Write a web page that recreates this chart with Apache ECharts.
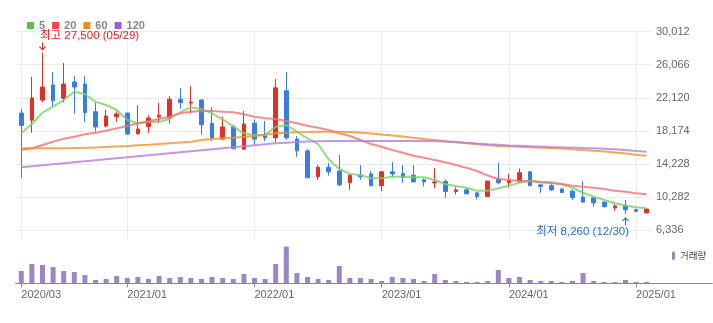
<!DOCTYPE html>
<html><head><meta charset="utf-8">
<script src="https://cdn.jsdelivr.net/npm/echarts@6/dist/echarts.min.js"></script>
<style>html,body{margin:0;padding:0;background:#fff}#c{width:713px;height:323px}</style>
</head><body><div id="c"></div>
<script>
const categories = ['2020/03','2020/04','2020/05','2020/06','2020/07','2020/08','2020/09','2020/10','2020/11','2020/12',
'2021/01','2021/02','2021/03','2021/04','2021/05','2021/06','2021/07','2021/08','2021/09','2021/10','2021/11','2021/12',
'2022/01','2022/02','2022/03','2022/04','2022/05','2022/06','2022/07','2022/08','2022/09','2022/10','2022/11','2022/12',
'2023/01','2023/02','2023/03','2023/04','2023/05','2023/06','2023/07','2023/08','2023/09','2023/10','2023/11','2023/12',
'2024/01','2024/02','2024/03','2024/04','2024/05','2024/06','2024/07','2024/08','2024/09','2024/10','2024/11','2024/12',
'2025/01','2025/02'];
const openV  = [20300,19450,21850,23650,22050,24000,23750,20450,18750,19850,20300,17850,18700,19850,19700,21950,21500,21850,19100,17200,18650,16000,19100,17600,17350,22950,17200,15800,12700,13850,13400,12000,12900,13050,11650,13300,13100,12900,12350,12000,12150,10950,11150,10800,10350,12450,12000,12200,13300,11750,11650,11250,11000,10300,10200,9700,9030,9310,8790,8430];
const closeV = [18800,22100,23400,21750,23750,23400,20350,18650,19950,20200,17800,18400,19700,20050,21950,21550,21600,18900,17350,18650,16050,19000,17200,17350,23300,17350,15800,12600,13850,13300,11750,12900,12700,11650,13300,13050,12650,12100,12100,12100,10950,11150,10700,10350,12200,12000,12350,13200,11650,11550,11150,10850,10250,9700,9600,9150,9230,8790,8600,8870];
const lowV   = [12600,17950,21600,21050,21550,20200,19250,18100,18600,19250,17700,17700,17950,19250,19050,20800,20250,17700,16950,17100,16000,15900,16500,16950,16850,17100,15100,12550,12350,12850,11550,11150,12350,11600,11000,12700,11950,12050,11550,11350,10200,10600,10600,10000,10350,11800,11400,11950,11600,10800,11050,10750,9950,9600,9150,9050,8670,8260,8480,8290];
const highV  = [20800,24600,27500,25200,26250,24700,24700,21550,20650,20500,20350,21250,20050,21500,22300,23300,23500,21950,21000,19850,18900,20550,19550,19350,24350,25200,17550,16000,14100,14350,15300,12950,14100,13400,13400,14450,14100,14100,12500,13750,12400,11450,11400,10800,12200,14350,13050,13700,13400,11800,12100,11400,11200,12200,10250,9750,9430,9950,8900,8880];
const volume = [1230,1930,1830,1630,1230,1130,830,330,430,730,530,630,430,730,530,630,530,430,630,530,430,930,530,430,1930,3670,1030,630,430,330,1730,530,530,430,230,630,530,430,230,930,330,230,130,130,230,1330,530,630,330,230,230,130,230,1030,230,130,130,330,130,130];
const ma5   = [17890,19000,20340,21060,21850,22840,22570,21650,21260,20660,19470,19080,19240,19240,19630,20370,20990,20750,20270,19560,18680,17890,17690,17690,18680,18880,18080,17290,16610,14790,13640,13040,12920,12530,12530,12720,12720,12650,12650,12330,11820,11610,11410,11050,11050,11340,11650,12010,12210,12120,12050,11820,11410,10810,10340,9950,9550,9270,9080,8960];
const ma20  = [15900,16100,16500,16890,17250,17480,17770,17960,18200,18480,18760,19080,19320,19590,19870,20270,20460,20550,20550,20460,20390,20150,19870,19680,19590,19350,19080,18790,18560,18280,17890,17570,17090,16610,16290,15900,15580,15220,14980,14710,14440,14110,13790,13400,12860,12450,12330,12210,12210,12050,11930,11850,11650,11530,11410,11260,11050,10930,10740,10620];
const ma60  = [16100,16100,16100,16100,16110,16140,16160,16200,16260,16320,16380,16460,16530,16610,16700,16790,16880,17090,17210,17290,17370,17470,17570,17720,17890,17950,18010,18040,18080,18080,18080,18040,17980,17870,17750,17630,17510,17350,17210,17090,16950,16820,16700,16580,16460,16380,16340,16290,16230,16170,16130,16080,16000,15900,15820,15720,15600,15480,15340,15220];
const ma120 = [13840,13960,14080,14200,14320,14440,14550,14670,14790,14910,15030,15150,15270,15390,15520,15640,15760,15880,16000,16110,16220,16340,16460,16580,16690,16770,16840,16900,16940,16960,16970,16970,16970,16970,16970,16970,16970,16970,16970,16940,16900,16840,16770,16670,16590,16520,16450,16400,16350,16310,16260,16220,16190,16140,16100,16040,15980,15900,15790,15690];
const yTicks = [6336,10282,14228,18174,22120,26066,30012];
const yMainMin = 5181;
const volumeMax = 4330;
const xLabelDates = ['2020/03','2021/01','2022/01','2023/01','2024/01','2025/01'];
const maNames = ['5','20','60','120'];
const highMark = {date:'2020/05', value:27500, text:'최고 27,500 (05/29)'};
const lowMark = {date:'2024/12', value:8260, text:'최저 8,260 (12/30)'};

const FONT = "'Liberation Sans', 'Noto Sans CJK KR', sans-serif";
const legendColors = ['#5bbf48','#ef4646','#f58a1e','#9e5ed0'];
const lineColors = ['#7ccf6a','#f27272','#f5902a','#b17ed9'];
const maData = [ma5, ma20, ma60, ma120];
const candleData = categories.map((c,i)=>[openV[i], closeV[i], lowV[i], highV[i]]);
const showLabel = (idx, val) => xLabelDates.indexOf(val) >= 0;
const fmt = v => Math.round(v).toString().replace(/\B(?=(\d{3})+(?!\d))/g, ',');
const arrowDown = 'path://M3,0 L4,0 L4,6 L6.3,3.7 L7,4.4 L3.5,8 L0,4.4 L0.7,3.7 L3,6 Z';
const arrowUp = 'path://M3,8 L4,8 L4,2 L6.3,4.3 L7,3.6 L3.5,0 L0,3.6 L0.7,4.3 L3,2 Z';
const step = yTicks[1]-yTicks[0];

const chart = echarts.init(document.getElementById('c'), null, {renderer:'canvas'});
const option = {
  animation:false,
  textStyle:{fontFamily:FONT},
  legend:[
    {data:maNames, left:22, top:15, icon:'rect', itemWidth:7, itemHeight:7, itemGap:7, selectedMode:false,
     textStyle:{color:'#888', fontWeight:'bold', fontSize:11, fontFamily:FONT}},
    {data:['거래량'], left:667, top:246, icon:'rect', itemWidth:3, itemHeight:8, itemGap:0, selectedMode:false,
     textStyle:{color:'#444', fontSize:9.5, fontFamily:"'Noto Sans CJK KR', sans-serif"}}
  ],
  grid:[
    {left:16, right:61, top:31.5, bottom:83},
    {left:16, right:61, top:31.5, bottom:92.7},
    {left:16, right:61, top:240, bottom:39.7},
    {left:16, right:1, top:240, bottom:39.7}
  ],
  xAxis:[
    {gridIndex:0, type:'category', data:categories, boundaryGap:true, axisLine:{show:false}, axisTick:{show:false}, axisLabel:{show:false}, splitLine:{show:false}},
    {gridIndex:1, type:'value', min:0, max:1, show:false},
    {gridIndex:2, type:'category', data:categories, boundaryGap:true,
     axisLine:{show:true, lineStyle:{color:'#888'}},
     axisTick:{show:true, alignWithLabel:true, interval:showLabel, length:4, lineStyle:{color:'#888'}},
     axisLabel:{show:true, interval:showLabel, align:'left', margin:6, color:'#666', fontSize:11, fontFamily:FONT},
     splitLine:{show:false}},
    {gridIndex:3, type:'value', min:0, max:1, position:'top', axisLine:{show:true, lineStyle:{color:'#737b85', width:1}}, axisTick:{show:false}, axisLabel:{show:false}, splitLine:{show:false}},
    {gridIndex:3, type:'value', min:0, max:1, position:'bottom', axisLine:{show:true, lineStyle:{color:'#888', width:1}}, axisTick:{show:false}, axisLabel:{show:false}, splitLine:{show:false}}
  ],
  yAxis:[
    {gridIndex:0, type:'value', min:yMainMin, max:yTicks[yTicks.length-1], axisLine:{show:false}, axisTick:{show:false}, axisLabel:{show:false}, splitLine:{show:false}},
    {gridIndex:1, type:'value', position:'right', min:yTicks[0], max:yTicks[yTicks.length-1], interval:step,
     axisLine:{show:false}, axisTick:{show:false},
     axisLabel:{margin:4, color:'#666', fontSize:11, fontFamily:FONT, formatter:fmt},
     splitLine:{show:true, lineStyle:{color:'#ebebeb', width:1}}},
    {gridIndex:2, type:'value', min:0, max:volumeMax, show:false},
    {gridIndex:3, type:'value', min:0, max:1, show:false}
  ],
  series:[
    {type:'candlestick', name:'candle', xAxisIndex:0, yAxisIndex:0, data:candleData, barWidth:4,
     itemStyle:{color:'#e0302a', color0:'#3a7de0', borderColor:'#e0302a', borderColor0:'#3a7de0', borderWidth:1},
     markLine:{silent:true, z:1, symbol:['none','none'], label:{show:false},
       lineStyle:{color:'#ececec', width:1, type:'solid'},
       data:xLabelDates.map(d=>({xAxis:d}))},
     markPoint:{silent:true, data:[
       {coord:[highMark.date, highMark.value], symbol:arrowDown, symbolSize:[7,8], symbolOffset:[0,-6],
        itemStyle:{color:'#ee1c1c'}, label:{show:false}},
       {coord:[highMark.date, highMark.value], symbol:'rect', symbolSize:1, itemStyle:{color:'rgba(0,0,0,0)'},
        label:{show:true, position:'right', distance:0, offset:[-3,-17], formatter:highMark.text, color:'#ee1c1c', fontSize:11.5, fontFamily:FONT}},
       {coord:[lowMark.date, lowMark.value], symbol:arrowUp, symbolSize:[7,8], symbolOffset:[0,7],
        itemStyle:{color:'#1b6fd6'}, label:{show:false}},
       {coord:[lowMark.date, lowMark.value], symbol:'rect', symbolSize:1, itemStyle:{color:'rgba(0,0,0,0)'},
        label:{show:true, position:'left', distance:0, offset:[4,18], formatter:lowMark.text, color:'#1b6fd6', fontSize:11.5, fontFamily:FONT}}
     ]}
    },
    ...maNames.map((n,i)=>({type:'line', name:n, xAxisIndex:0, yAxisIndex:0, data:maData[i], showSymbol:false, symbol:'none',
      itemStyle:{color:legendColors[i]}, lineStyle:{color:lineColors[i], width:2, opacity:0.8}, z:3})),
    {type:'bar', name:'거래량', xAxisIndex:2, yAxisIndex:2, data:volume, barWidth:5, itemStyle:{color:'#9b87c7'}}
  ]
};
chart.setOption(option);
</script></body></html>
